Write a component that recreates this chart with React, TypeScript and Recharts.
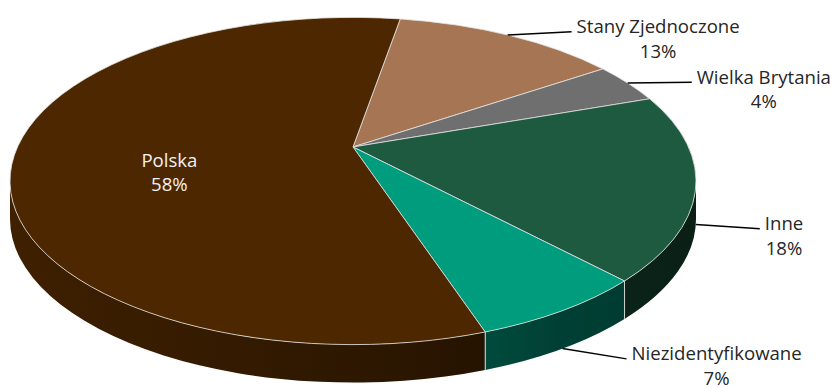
import React from 'react';
import { PieChart, Pie, Cell } from 'recharts';

// ---- data ----
const categories = ['Stany Zjednoczone', 'Wielka Brytania', 'Inne', 'Niezidentyfikowane', 'Polska'];
const shares = [13, 4, 18, 7, 58];
const colors = ['#a67654', '#6f6f6f', '#1d5a3f', '#009c7e', '#4d2700'];

const data = categories.map((name, i) => ({ name, value: shares[i] }));

// ---- layout / style ----
const W = 840;
const H = 387;
const CX = 353;
const CY = 181;
const RX = 343;
const RATIO = 0.477; // vertical squash of the pie top
const PERSP = 12; // perspective skew of angles (degrees)
const DEPTH = 38;
const START = 80;
const FS = 18.6;
const LH = 24.5;
const LEADER = 64;
const FONT = '"Open Sans", "Noto Sans", sans-serif';
const EDGE = '#e2e2e2';

const rad = (a: number) => (a * Math.PI) / 180;
// map a pie angle to the parametric angle on the projected ellipse
const proj = (a: number) => a + PERSP * Math.cos(rad(a));

function shade(hex: string, f: number) {
  const h = hex.replace('#', '');
  const r = Math.round(parseInt(h.slice(0, 2), 16) * f);
  const g = Math.round(parseInt(h.slice(2, 4), 16) * f);
  const b = Math.round(parseInt(h.slice(4, 6), 16) * f);
  return `rgb(${r},${g},${b})`;
}

let ctx: CanvasRenderingContext2D | null = null;
function measure(t: string) {
  if (typeof document === 'undefined') return t.length * FS * 0.57;
  if (!ctx) ctx = document.createElement('canvas').getContext('2d');
  if (!ctx) return t.length * FS * 0.57;
  ctx.font = `${FS}px ${FONT}`;
  return ctx.measureText(t).width;
}

const Slice3D = (props: any) => {
  const { cx, cy, outerRadius, startAngle, endAngle, fill } = props;
  const rx = outerRadius;
  const ry = outerRadius * RATIO;
  const ay = cy - ry * Math.sin(rad(PERSP));
  const pt = (t: number) => [cx + rx * Math.cos(rad(t)), cy - ry * Math.sin(rad(t))];
  const hi = proj(Math.max(startAngle, endAngle));
  const lo = proj(Math.min(startAngle, endAngle));
  const [x1, y1] = pt(hi);
  const [x2, y2] = pt(lo);
  const large = hi - lo > 180 ? 1 : 0;
  const top = `M${cx},${ay} L${x1},${y1} A${rx},${ry} 0 ${large} 1 ${x2},${y2} Z`;

  const gid = `g3d-${String(fill).replace('#', '')}`;
  const sides: React.ReactNode[] = [];
  const lines: React.ReactNode[] = [];
  for (let k = -2; k <= 2; k++) {
    const fLo = k * 360 - 180;
    const fHi = k * 360;
    const s = Math.max(lo, fLo);
    const e = Math.min(hi, fHi);
    if (e - s > 0.01) {
      const [ex, ey] = pt(e);
      const [sx, sy] = pt(s);
      const d = `M${ex},${ey} A${rx},${ry} 0 0 1 ${sx},${sy} L${sx},${sy + DEPTH} A${rx},${ry} 0 0 0 ${ex},${ey + DEPTH} Z`;
      sides.push(<path key={`s${k}`} d={d} fill={`url(#${gid})`} stroke="none" />);
      if (s === lo) lines.push(<line key={`l${k}`} x1={sx} y1={sy} x2={sx} y2={sy + DEPTH} stroke={EDGE} strokeWidth={0.8} />);
      if (e === hi) lines.push(<line key={`h${k}`} x1={ex} y1={ey} x2={ex} y2={ey + DEPTH} stroke={EDGE} strokeWidth={0.8} />);
    }
  }

  return (
    <g>
      <defs>
        <linearGradient id={gid} gradientUnits="userSpaceOnUse" x1={cx - rx} y1={0} x2={cx + rx} y2={0}>
          <stop offset="0" stopColor={shade(fill, 0.82)} />
          <stop offset="0.57" stopColor={shade(fill, 0.56)} />
          <stop offset="0.8" stopColor={shade(fill, 0.41)} />
          <stop offset="1" stopColor={shade(fill, 0.36)} />
        </linearGradient>
      </defs>
      {sides}
      {lines}
      <path d={top} fill={fill} stroke={EDGE} strokeWidth={0.8} strokeLinejoin="round" />
    </g>
  );
};

const renderLabel = (p: any) => {
  const { cx, cy, midAngle, outerRadius, percent } = p;
  const name = p.name ?? p.payload?.name;
  const rx = outerRadius;
  const ry = outerRadius * RATIO;
  const t = rad(proj(midAngle));
  const c = Math.cos(t);
  const s = Math.sin(t);
  const pct = `${Math.round(percent * 100)}%`;
  const off = FS * 0.35;

  if (percent > 0.3) {
    const f = 0.54;
    const x = cx + rx * c * f;
    const y = cy - ry * s * f + 3;
    return (
      <text x={x} y={y} textAnchor="middle" fill="#f2f2f2" fontSize={FS} fontFamily={FONT}>
        <tspan x={x} y={y - LH / 2 + off}>{name}</tspan>
        <tspan x={x} y={y + LH / 2 + off}>{pct}</tspan>
      </text>
    );
  }

  const ex = cx + rx * c;
  const ey = cy - ry * s;
  const sy = ey + (s < 0 ? DEPTH : 0);
  const endX = ex + LEADER;
  const endY = sy + 4 - 8 * s;
  const tx = endX + 5;
  const w = measure(name);
  const mid = tx + w / 2;
  const base = endY - 5 + off;
  return (
    <g>
      <polyline points={`${ex},${sy} ${endX},${endY}`} fill="none" stroke="#000" strokeWidth={1.5} />
      <text fill="#262626" fontSize={FS} fontFamily={FONT} textAnchor="middle">
        <tspan x={mid} y={base}>{name}</tspan>
        <tspan x={mid} y={base + LH}>{pct}</tspan>
      </text>
    </g>
  );
};

export default function App() {
  return (
    <div style={{ position: 'absolute', left: 0, top: 0, width: W, height: H, background: '#fff' }}>
      <PieChart width={W} height={H} margin={{ top: 0, right: 0, bottom: 0, left: 0 }}>
        <Pie
          data={data}
          dataKey="value"
          nameKey="name"
          cx={CX}
          cy={CY}
          outerRadius={RX}
          startAngle={START}
          endAngle={START - 360}
          isAnimationActive={false}
          shape={Slice3D}
          activeShape={Slice3D}
          inactiveShape={Slice3D}
          label={renderLabel}
          labelLine={false}
          stroke="none"
        >
          {data.map((d, i) => (
            <Cell key={d.name} fill={colors[i]} />
          ))}
        </Pie>
      </PieChart>
    </div>
  );
}
